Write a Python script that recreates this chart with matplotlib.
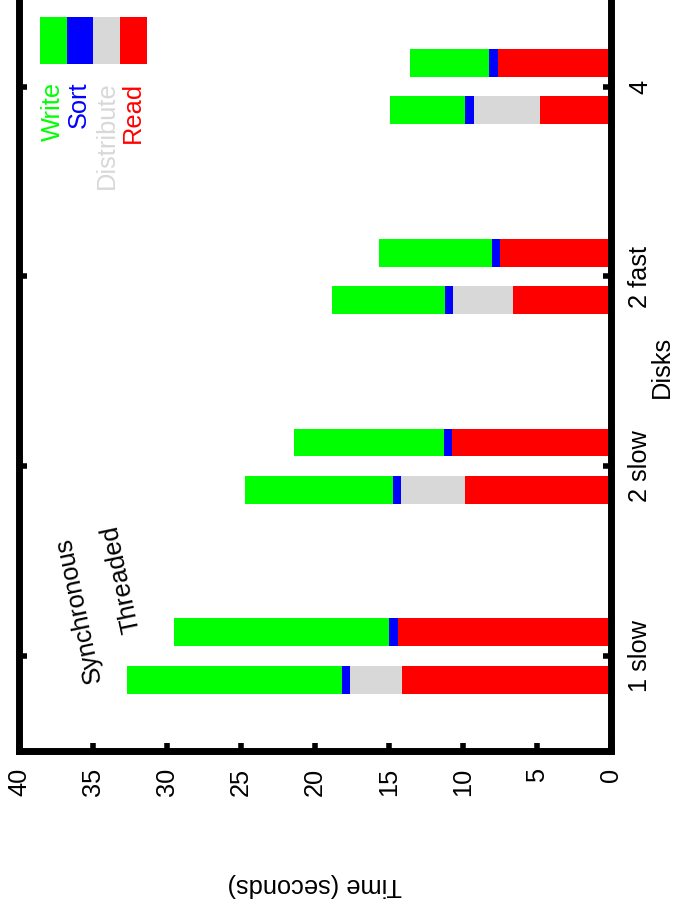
import matplotlib
matplotlib.use("Agg")
import matplotlib.pyplot as plt
from matplotlib.patches import Rectangle
import numpy as np

plt.rcParams['font.family'] = ['Liberation Sans', 'DejaVu Sans']

categories = ["1 slow", "2 slow", "2 fast", "4"]
phases = ["Write", "Sort", "Distribute", "Read"]
phase_colors = {"Write": "#00ff00", "Sort": "#0000ff", "Distribute": "#d8d8d8", "Read": "#ff0000"}

sync_read = [14.12, 9.86, 6.60, 4.78]
sync_distribute = [3.51, 4.32, 4.08, 4.50]
sync_sort = [0.56, 0.56, 0.54, 0.56]
sync_write = [14.52, 9.98, 7.63, 5.09]

thr_read = [14.39, 10.74, 7.48, 7.66]
thr_distribute = [0.0, 0.0, 0.0, 0.0]
thr_sort = [0.59, 0.56, 0.56, 0.56]
thr_write = [14.55, 10.12, 7.64, 5.38]

time_ticks = [0, 5, 10, 15, 20, 25, 30, 35, 40]

W, H = 674, 913
FS = 18.3
fig = plt.figure(figsize=(W / 100, H / 100), dpi=100)

def fx(px):
    return px / W

def fy(py):
    return 1 - py / H

ax = fig.add_axes([fx(19), fy(751), 592 / W, (751 + 8.3) / H])

pos = np.arange(len(categories))
bw = 0.147
off = 0.125

def stack(ypos, read, dist, sort, write):
    left = np.zeros(len(read))
    for name, vals in (("Read", read), ("Distribute", dist), ("Sort", sort), ("Write", write)):
        vals = np.asarray(vals)
        ax.barh(ypos, vals, height=bw, left=left, color=phase_colors[name],
                edgecolor='none', zorder=2)
        left = left + vals

stack(pos - off, sync_read, sync_distribute, sync_sort, sync_write)
stack(pos + off, thr_read, thr_distribute, thr_sort, thr_write)

ax.set_xlim(40, 0)
ax.set_ylim(-0.5, 3.5)
ax.set_xticks(time_ticks)
ax.set_xticklabels([str(t) for t in time_ticks], rotation=90, fontsize=FS)
ax.set_yticks(pos)
ax.set_yticklabels(categories, rotation=90, fontsize=FS, va='center')
ax.tick_params(axis='x', which='both', direction='in', top=True, bottom=True,
               labeltop=False, labelbottom=True, length=5.5, width=4, pad=12.2)
ax.tick_params(axis='y', which='both', direction='in', left=True, right=True,
               labelleft=False, labelright=True, length=5.5, width=4, pad=12.2)
for s in ax.spines.values():
    s.set_linewidth(5.0)
    s.set_color('black')

# axis titles
fig.text(fx(315), fy(885), "Time (seconds)", rotation=180, ha='center', va='center', fontsize=FS)
fig.text(fx(662), fy(367), "Disks", rotation=90, ha='center', va='center', fontsize=FS)

# bar group labels
fig.text(fx(78.5), fy(610), "Synchronous", rotation=102, ha='center', va='center', fontsize=FS)
fig.text(fx(121.5), fy(579), "Threaded", rotation=102, ha='center', va='center', fontsize=FS)

# legend
box_x = [40, 66.7, 93.3, 120]
box_w = 26.7
text_x = [53.3, 79.3, 106.7, 133.3]
for name, bx, tx in zip(phases, box_x, text_x):
    fig.add_artist(Rectangle((fx(bx), fy(64.3)), box_w / W, (64.3 - 16.7) / H,
                             transform=fig.transFigure, facecolor=phase_colors[name],
                             edgecolor='none'))
    fig.text(fx(tx), fy(81.7), name, rotation=90, ha='center', va='top',
             fontsize=FS, color=phase_colors[name])

fig.savefig("out.png", dpi=100)
